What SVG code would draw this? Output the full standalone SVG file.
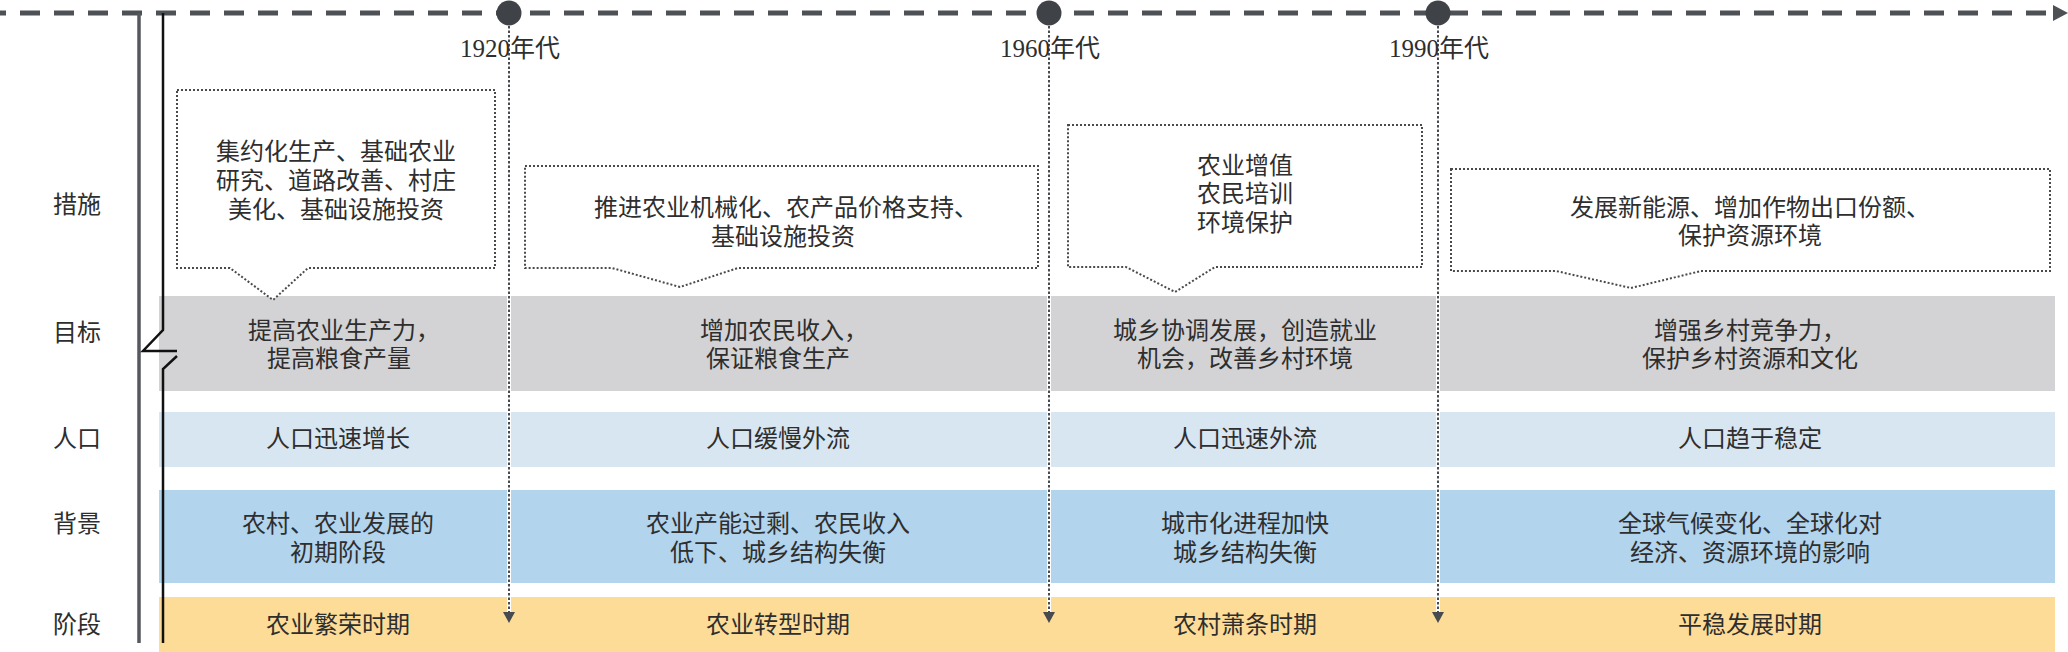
<svg xmlns="http://www.w3.org/2000/svg" width="2068" height="652" viewBox="0 0 2068 652">
<style>
text{font-family:"Noto Sans CJK SC","Noto Sans",sans-serif;font-size:24px;fill:#2e2e2e;text-anchor:middle}
.yr{font-family:"Liberation Serif","Noto Sans CJK SC",serif;font-size:25px;text-anchor:start}
.box{fill:#fff;stroke:#4a4a4a;stroke-width:2;stroke-dasharray:2 2}
.vl{stroke:#474a4f;stroke-width:2;stroke-dasharray:2.5 2;fill:none}
.vw{stroke:#fff;stroke-width:4;fill:none}
.ah{fill:#474a4f}
</style>
<rect width="2068" height="652" fill="#fff"/>
<g id="bands">
<rect x="159" y="296" width="1896" height="95" fill="#d3d3d5"/>
<rect x="159" y="412" width="1896" height="55" fill="#d8e6f2"/>
<rect x="159" y="490" width="1896" height="93" fill="#b2d4ec"/>
<rect x="159" y="597" width="1896" height="55" fill="#fddc98"/>
</g>
<g id="axis">
<line x1="0" y1="13" x2="2054" y2="13" stroke="#4d5055" stroke-width="5" stroke-dasharray="20 14" stroke-dashoffset="14"/>
<polygon points="2053,5 2068,13 2053,21" fill="#4d5055"/>
<line x1="139" y1="13" x2="139" y2="643" stroke="#55585c" stroke-width="3.5"/>
<polyline points="163,13 163,330 143,351 177,351" fill="none" stroke="#111" stroke-width="2.5"/>
<polyline points="177,356 163,369 163,643" fill="none" stroke="#111" stroke-width="2.5"/>
</g>
<g id="connectors">
<line class="vw" x1="509" y1="26" x2="509" y2="612"/>
<line class="vl" x1="509" y1="26" x2="509" y2="612"/>
<polygon class="ah" points="503,612 515,612 509,623"/>
<line class="vw" x1="1049" y1="26" x2="1049" y2="612"/>
<line class="vl" x1="1049" y1="26" x2="1049" y2="612"/>
<polygon class="ah" points="1043,612 1055,612 1049,623"/>
<line class="vw" x1="1438" y1="26" x2="1438" y2="612"/>
<line class="vl" x1="1438" y1="26" x2="1438" y2="612"/>
<polygon class="ah" points="1432,612 1444,612 1438,623"/>
</g>
<g id="markers">
<circle cx="509" cy="13" r="12.5" fill="#3f4247"/>
<circle cx="1049" cy="13" r="12.5" fill="#3f4247"/>
<circle cx="1438" cy="13" r="12.5" fill="#3f4247"/>
<text class="yr" x="460" y="57">1920年代</text>
<text class="yr" x="1000" y="57">1960年代</text>
<text class="yr" x="1389" y="57">1990年代</text>
</g>
<g id="row-labels">
<text x="77" y="213">措施</text>
<text x="77" y="341">目标</text>
<text x="77" y="447">人口</text>
<text x="77" y="532">背景</text>
<text x="77" y="633">阶段</text>
</g>
<g id="callout-1">
<path class="box" d="M177,90 H495 V268 H308 L273,300 L230,268 H177 Z"/>
<text x="336" y="160">集约化生产、基础农业</text>
<text x="336" y="189">研究、道路改善、村庄</text>
<text x="336" y="218">美化、基础设施投资</text>
</g>
<g id="callout-2">
<path class="box" d="M525,166 H1038 V268 H738 L680,287 L612,268 H525 Z"/>
<text x="786" y="216">推进农业机械化、农产品价格支持、</text>
<text x="783" y="245">基础设施投资</text>
</g>
<g id="callout-3">
<path class="box" d="M1068,125 H1422 V267 H1215 L1175,292 L1126,267 H1068 Z"/>
<text x="1245" y="174">农业增值</text>
<text x="1245" y="202">农民培训</text>
<text x="1245" y="231">环境保护</text>
</g>
<g id="callout-4">
<path class="box" d="M1451,169 H2050 V271 H1701 L1631,288 L1556,271 H1451 Z"/>
<text x="1750" y="216">发展新能源、增加作物出口份额、</text>
<text x="1750" y="244">保护资源环境</text>
</g>
<g id="goal-row">
<text x="344" y="339">提高农业生产力，</text>
<text x="339" y="367">提高粮食产量</text>
<text x="784" y="339">增加农民收入，</text>
<text x="778" y="367">保证粮食生产</text>
<text x="1245" y="339">城乡协调发展，创造就业</text>
<text x="1245" y="367">机会，改善乡村环境</text>
<text x="1750" y="339">增强乡村竞争力，</text>
<text x="1750" y="367">保护乡村资源和文化</text>
</g>
<g id="population-row">
<text x="338" y="447">人口迅速增长</text>
<text x="778" y="447">人口缓慢外流</text>
<text x="1245" y="447">人口迅速外流</text>
<text x="1750" y="447">人口趋于稳定</text>
</g>
<g id="background-row">
<text x="338" y="532">农村、农业发展的</text>
<text x="338" y="561">初期阶段</text>
<text x="778" y="532">农业产能过剩、农民收入</text>
<text x="778" y="561">低下、城乡结构失衡</text>
<text x="1245" y="532">城市化进程加快</text>
<text x="1245" y="561">城乡结构失衡</text>
<text x="1750" y="532">全球气候变化、全球化对</text>
<text x="1750" y="561">经济、资源环境的影响</text>
</g>
<g id="stage-row">
<text x="338" y="633">农业繁荣时期</text>
<text x="778" y="633">农业转型时期</text>
<text x="1245" y="633">农村萧条时期</text>
<text x="1750" y="633">平稳发展时期</text>
</g>
</svg>
